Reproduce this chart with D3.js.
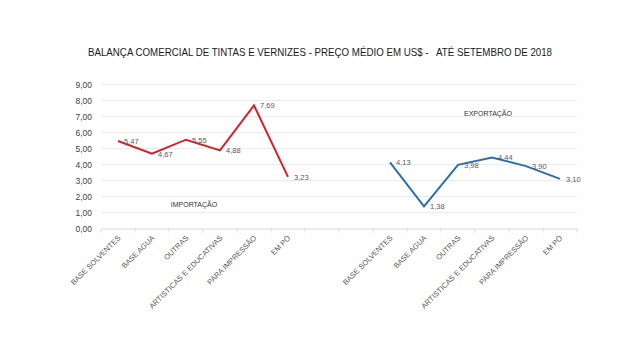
<!DOCTYPE html>
<html>
<head>
<meta charset="utf-8">
<script src="https://cdn.jsdelivr.net/npm/d3@7"></script>
<style>
  body { margin: 0; background: #fff; }
  svg { font-family: "Liberation Sans Narrow", "Liberation Sans", Arial, sans-serif; }
</style>
</head>
<body>
<div id="chart"></div>
<script>
// categories shared by both blocks
var categories = ["BASE SOLVENTES", "BASE AGUA", "OUTRAS", "ARTISTICAS E EDUCATIVAS", "PARA IMPRESSÃO", "EM PÓ"];
var importacao = [5.47, 4.67, 5.55, 4.88, 7.69, 3.23];
var exportacao = [4.13, 1.38, 3.98, 4.44, 3.90, 3.10];
var yTicks = [0, 1, 2, 3, 4, 5, 6, 7, 8, 9];
var gapSlots = 2;

var W = 640, H = 360;
var margin = {top: 84.5, left: 101, right: 63, bottom: 131.5};
var width = W - margin.left - margin.right,
    height = H - margin.top - margin.bottom;

var fmt = function(v){ return v.toFixed(2).replace(".", ","); };

// slot keys: import, empty gap, export
var slots = [];
categories.forEach(function(c, i){ slots.push("imp" + i); });
for (var k = 0; k < gapSlots; k++) slots.push("gap" + k);
categories.forEach(function(c, i){ slots.push("exp" + i); });

var x = d3.scaleBand().domain(slots).range([0, width]).padding(0);
var y = d3.scaleLinear().domain([0, 9]).range([height, 0]);
var cx = function(key){ return x(key) + x.bandwidth() / 2; };

var svg = d3.select("#chart").append("svg")
  .attr("width", W).attr("height", H);

svg.append("text")
  .attr("x", 320).attr("y", 56)
  .attr("text-anchor", "middle")
  .attr("textLength", 464)
  .attr("lengthAdjust", "spacingAndGlyphs")
  .style("white-space", "pre")
  .style("font-size", "10.5px")
  .style("fill", "#1a1a1a")
  .text("BALANÇA COMERCIAL DE TINTAS E VERNIZES - PREÇO MÉDIO EM US$ -   ATÉ SETEMBRO DE 2018");

var g = svg.append("g")
  .attr("transform", "translate(" + margin.left + "," + margin.top + ")");

// gridlines
g.selectAll(".grid")
  .data(yTicks.filter(function(d){ return d > 0; }))
  .enter().append("line")
  .attr("x1", 0).attr("x2", width)
  .attr("y1", function(d){ return y(d); })
  .attr("y2", function(d){ return y(d); })
  .style("stroke", "#ebebeb")
  .style("stroke-width", 1);

// y axis labels
var yAxis = g.append("g")
  .call(d3.axisLeft(y).tickValues(yTicks).tickSize(0).tickPadding(9).tickFormat(fmt));
yAxis.select(".domain").remove();
yAxis.selectAll("text")
  .style("font-size", "8.5px")
  .style("fill", "#404040")
  .style("font-family", "Liberation Sans, Arial, sans-serif");

// x axis
var xAxis = g.append("g")
  .attr("transform", "translate(0," + height + ")")
  .call(d3.axisBottom(x).tickSize(0).tickFormat(""));
xAxis.select(".domain").style("stroke", "#d9d9d9");
xAxis.selectAll(".tick").remove();

g.selectAll(".xtick")
  .data(d3.range(slots.length + 1))
  .enter().append("line")
  .attr("x1", function(i){ return i * x.step(); })
  .attr("x2", function(i){ return i * x.step(); })
  .attr("y1", height).attr("y2", height + 4)
  .style("stroke", "#d9d9d9");

function drawLabels(prefix){
  g.selectAll(".xl-" + prefix)
    .data(categories)
    .enter().append("text")
    .attr("transform", function(d, i){
      return "translate(" + (cx(prefix + i) + 3) + "," + (height + 10) + ") rotate(-45)";
    })
    .attr("text-anchor", "end")
    .style("font-size", "7.5px")
    .style("fill", "#595959")
    .text(function(d){ return d; });
}
drawLabels("imp");
drawLabels("exp");

function drawSeries(values, prefix, color){
  var line = d3.line()
    .x(function(d, i){ return cx(prefix + i); })
    .y(function(d){ return y(d); });
  g.append("path")
    .datum(values)
    .attr("d", line)
    .style("fill", "none")
    .style("stroke", color)
    .style("stroke-width", 2)
    .style("stroke-linejoin", "miter");

  g.selectAll(".dl-" + prefix)
    .data(values)
    .enter().append("text")
    .attr("x", function(d, i){ return cx(prefix + i) + 6; })
    .attr("y", function(d){ return y(d) + 3; })
    .style("font-size", "7.5px")
    .style("fill", "#595959")
    .text(fmt);
}
drawSeries(importacao, "imp", "#d81f26");
drawSeries(exportacao, "exp", "#2a70ae");

svg.append("text")
  .attr("x", 194).attr("y", 207)
  .attr("text-anchor", "middle")
  .style("font-size", "7px")
  .style("fill", "#333")
  .text("IMPORTAÇÃO");

svg.append("text")
  .attr("x", 488).attr("y", 116)
  .attr("text-anchor", "middle")
  .style("font-size", "7px")
  .style("fill", "#333")
  .text("EXPORTAÇÃO");
</script>
</body>
</html>
